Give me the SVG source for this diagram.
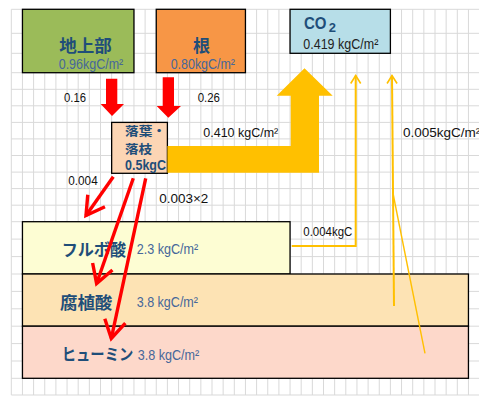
<svg xmlns="http://www.w3.org/2000/svg" width="479" height="397" viewBox="0 0 479 397">
<style>
.grid{stroke:#d9d9d9;stroke-width:1;fill:none}
.box{stroke:#000;stroke-width:1.3}
.ttl{font-family:"Noto Sans CJK JP","Liberation Sans",sans-serif;font-weight:bold;fill:#1f4e79}
.val{font-family:"Liberation Sans","Noto Sans CJK JP",sans-serif;fill:#46679a;font-size:14.5px}
.lbl{font-family:"Liberation Sans","Noto Sans CJK JP",sans-serif;fill:#111;font-size:13.5px}
.red{stroke:#ff0000;stroke-width:3.4;fill:none;marker-end:url(#vr)}
.yl{stroke:#ffc000;fill:none}
</style>
<defs>
<marker id="vr" markerUnits="userSpaceOnUse" viewBox="-22 -14 26 28" refX="0" refY="0" markerWidth="26" markerHeight="28" orient="auto" overflow="visible">
<path d="M-18,-10.5 L0,0 L-18,10.5" fill="none" stroke="#ff0000" stroke-width="3.4"/>
</marker>
<marker id="vy" markerUnits="userSpaceOnUse" viewBox="-10 -7 12 14" refX="0" refY="0" markerWidth="12" markerHeight="14" orient="auto" overflow="visible">
<path d="M-8,-5 L0,0 L-8,5" fill="none" stroke="#ffc000" stroke-width="1.6"/>
</marker>
</defs>
<rect width="479" height="397" fill="#fff"/>
<g id="grid" class="grid">
<path d="M11.3,9.3V395M22.45,9.3V395M33.6,9.3V395M44.75,9.3V395M55.9,9.3V395M67.05,9.3V395M78.2,9.3V395M89.35,9.3V395M100.5,9.3V395M111.65,9.3V395M122.8,9.3V395M133.95,9.3V395M145.1,9.3V395M156.25,9.3V395M167.4,9.3V395M178.55,9.3V395M189.7,9.3V395M200.85,9.3V395M212,9.3V395M223.15,9.3V395M234.3,9.3V395M245.45,9.3V395M256.6,9.3V395M267.75,9.3V395M278.9,9.3V395M290.05,9.3V395M301.2,9.3V395M312.35,9.3V395M323.5,9.3V395M334.65,9.3V395M345.8,9.3V395M356.95,9.3V395M368.1,9.3V395M379.25,9.3V395M390.4,9.3V395M401.55,9.3V395M412.7,9.3V395M423.85,9.3V395M435,9.3V395M446.15,9.3V395M457.3,9.3V395M468.45,9.3V395"/>
<path d="M11.3,9.3H479M11.3,33.3H479M11.3,53.3H479M11.3,72.7H479M11.3,89.3H479M11.3,105.8H479M11.3,122.4H479M11.3,138.9H479M11.3,155.5H479M11.3,172.1H479M11.3,188.6H479M11.3,205.2H479M11.3,221.7H479M11.3,239.1H479M11.3,256.6H479M11.3,274H479M11.3,291.4H479M11.3,308.8H479M11.3,326.2H479M11.3,343.6H479M11.3,361H479M11.3,378.3H479M11.3,395H479"/>
</g>
<g id="n-chijoubu">
<rect class="box" x="22.45" y="9.3" width="111.5" height="63.4" fill="#9bbb59"/>
<text class="ttl" x="59.3" y="51.5" font-size="17" textLength="52.5" lengthAdjust="spacingAndGlyphs">地上部</text>
<text class="val" x="58.7" y="69.3" textLength="64.6" lengthAdjust="spacingAndGlyphs">0.96kgC/m²</text>
</g>
<g id="n-ne">
<rect class="box" x="156.25" y="9.3" width="89.2" height="63.4" fill="#f79646"/>
<text class="ttl" x="193" y="51.5" font-size="17">根</text>
<text class="val" x="170.7" y="69.3" textLength="64.3" lengthAdjust="spacingAndGlyphs">0.80kgC/m²</text>
</g>
<g id="n-co2">
<rect class="box" x="290.05" y="9.3" width="100.35" height="44" fill="#b7dee8"/>
<text x="304" y="29" font-family="Liberation Sans, sans-serif" font-weight="bold" font-size="17" fill="#1f4e79" textLength="22.5" lengthAdjust="spacingAndGlyphs">CO</text>
<text x="328.8" y="32" font-family="Liberation Sans, sans-serif" font-weight="bold" font-size="13" fill="#1f4e79">2</text>
<text x="303.3" y="49.3" font-family="Liberation Sans, sans-serif" font-size="14.5" fill="#222" textLength="75" lengthAdjust="spacingAndGlyphs">0.419 kgC/m²</text>
</g>
<g id="n-litter">
<rect class="box" x="111.65" y="122.4" width="55.75" height="50.9" fill="#fcd5b4"/>
<text class="ttl" x="125" y="136.3" font-size="12.5" textLength="41" lengthAdjust="spacingAndGlyphs">落葉・</text>
<text class="ttl" x="125" y="153.5" font-size="12.5" textLength="27" lengthAdjust="spacingAndGlyphs">落枝</text>
<text x="125" y="170.2" font-family="Liberation Sans, sans-serif" font-weight="bold" font-size="14" fill="#1f4e79" textLength="41" lengthAdjust="spacingAndGlyphs">0.5kgC</text>
</g>
<g id="n-fulvic">
<rect class="box" x="22.45" y="221.7" width="267.6" height="52.3" fill="#fdfdd3"/>
<text class="ttl" x="61.7" y="255.8" font-size="16.5" textLength="64.3" lengthAdjust="spacingAndGlyphs">フルボ酸</text>
<text class="val" x="136.7" y="254" textLength="61.6" lengthAdjust="spacingAndGlyphs">2.3 kgC/m²</text>
</g>
<g id="n-humic">
<rect class="box" x="22.45" y="274" width="446" height="52.2" fill="#fde3b4"/>
<text class="ttl" x="60" y="309" font-size="17" textLength="52.3" lengthAdjust="spacingAndGlyphs">腐植酸</text>
<text class="val" x="136.7" y="306.7" textLength="61.3" lengthAdjust="spacingAndGlyphs">3.8 kgC/m²</text>
</g>
<g id="n-humin">
<rect class="box" x="22.45" y="326.2" width="446" height="52.1" fill="#fdd8ca"/>
<text class="ttl" x="61.7" y="359.8" font-size="16" textLength="71.6" lengthAdjust="spacingAndGlyphs">ヒューミン</text>
<text class="val" x="137.7" y="359.5" textLength="61.6" lengthAdjust="spacingAndGlyphs">3.8 kgC/m²</text>
</g>
<g id="connectors">
<polygon points="106,78.7 117.3,78.7 117.3,104 124,104 112,116 100.7,104 106,104" fill="#ff0000"/>
<polygon points="162.7,77.3 174,77.3 174,106 181,106 168.3,117.7 156.7,106 162.7,106" fill="#ff0000"/>
<polygon points="167.4,146 290.7,146 290.7,95.7 276.7,95.7 304.5,68.3 332.7,95.7 319,95.7 319,172.7 167.4,172.7" fill="#ffc000"/>
<path class="red" d="M113.3,176.7 L86,215.5"/>
<path class="red" d="M133.3,178.3 L96.6,283.5"/>
<path class="red" d="M145.7,178.3 L111.3,338.5"/>
<path class="yl" stroke-width="2" d="M291.7,246 H355.7 V75.5" marker-end="url(#vy)"/>
<path class="yl" stroke-width="2" d="M394,306 L392,75.5" marker-end="url(#vy)"/>
<path class="yl" stroke-width="1.4" d="M425,353.3 L393.3,195"/>
</g>
<g id="labels">
<text class="lbl" x="64" y="102" textLength="22" lengthAdjust="spacingAndGlyphs">0.16</text>
<text class="lbl" x="197.7" y="102" textLength="22.3" lengthAdjust="spacingAndGlyphs">0.26</text>
<text class="lbl" x="203.3" y="137.3" textLength="75" lengthAdjust="spacingAndGlyphs">0.410 kgC/m²</text>
<text class="lbl" x="403" y="137.3" font-size="12">0.005kgC/m²</text>
<text class="lbl" x="68.3" y="185" textLength="29.4" lengthAdjust="spacingAndGlyphs">0.004</text>
<text class="lbl" x="159.3" y="202.7" textLength="49" lengthAdjust="spacingAndGlyphs">0.003×2</text>
<text class="lbl" x="303.3" y="236" textLength="49" lengthAdjust="spacingAndGlyphs">0.004kgC</text>
</g>
</svg>
